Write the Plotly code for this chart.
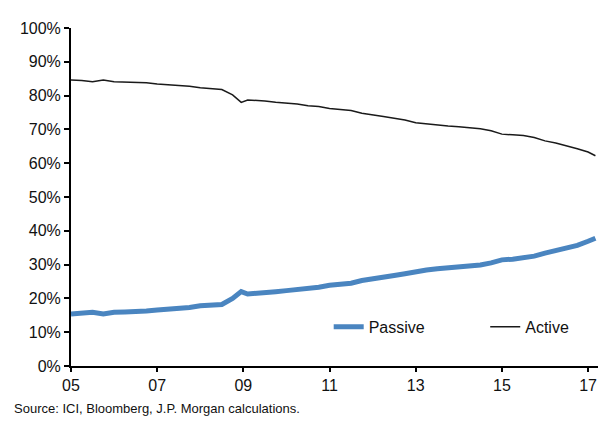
import plotly.graph_objects as go

years = [2005.00, 2005.25, 2005.50, 2005.75, 2006.00, 2006.25, 2006.50, 2006.75,
         2007.00, 2007.25, 2007.50, 2007.75, 2008.00, 2008.25, 2008.50, 2008.75,
         2008.95, 2009.10, 2009.25, 2009.50, 2009.75, 2010.00, 2010.25, 2010.50, 2010.75,
         2011.00, 2011.25, 2011.50, 2011.75, 2012.00, 2012.25, 2012.50, 2012.75,
         2013.00, 2013.25, 2013.50, 2013.75, 2014.00, 2014.25, 2014.50, 2014.75,
         2015.00, 2015.25, 2015.50, 2015.75, 2016.00, 2016.25, 2016.50, 2016.75,
         2017.00, 2017.17]

active = [84.6, 84.5, 84.1, 84.6, 84.1, 84.0, 84.0, 83.8,
          83.4, 83.2, 83.1, 82.8, 82.3, 82.0, 81.8, 80.2,
          78.0, 78.7, 78.6, 78.4, 78.0, 77.8, 77.5, 77.0, 76.8,
          76.2, 76.0, 75.6, 74.8, 74.2, 73.8, 73.3, 72.8,
          72.0, 71.6, 71.3, 71.0, 70.8, 70.6, 70.2, 69.6,
          68.6, 68.4, 68.2, 67.6, 66.6, 66.0, 65.2, 64.3,
          63.3, 62.2]

passive = [15.4, 15.5, 15.9, 15.4, 15.9, 16.0, 16.0, 16.3,
           16.6, 16.8, 16.9, 17.3, 17.8, 18.1, 18.2, 20.0,
           22.0, 21.3, 21.4, 21.6, 22.0, 22.3, 22.6, 23.1, 23.3,
           23.9, 24.1, 24.5, 25.3, 25.9, 26.3, 26.8, 27.3,
           28.0, 28.4, 28.8, 29.0, 29.2, 29.5, 29.9, 30.5,
           31.4, 31.6, 31.9, 32.5, 33.4, 34.1, 34.9, 35.7,
           36.9, 37.8]

x_tickvals = [2005, 2007, 2009, 2011, 2013, 2015, 2017]
x_ticktext = ["05", "07", "09", "11", "13", "15", "17"]
y_tickvals = [0, 10, 20, 30, 40, 50, 60, 70, 80, 90, 100]
y_ticktext = [f"{v}%" for v in y_tickvals]

FONT = "Liberation Sans, Arial, sans-serif"

fig = go.Figure()
fig.add_trace(go.Scatter(x=years, y=passive, mode="lines", name="Passive",
                         line=dict(color="#4a85c0", width=5), legend="legend"))
fig.add_trace(go.Scatter(x=years, y=active, mode="lines", name="Active",
                         line=dict(color="#1a1a1a", width=1.5), legend="legend2"))

# page body has an 8px margin; figure sized so the plot lands where the reference's does
fig.update_layout(
    width=605, height=415,
    margin=dict(l=60, r=15, t=14, b=57),
    paper_bgcolor="white", plot_bgcolor="white",
    font=dict(family=FONT, size=16, color="#111"),
    showlegend=True,
    legend=dict(x=0.489, y=0.116, xanchor="left", yanchor="middle",
                bgcolor="rgba(0,0,0,0)", font=dict(size=16)),
    legend2=dict(x=0.786, y=0.116, xanchor="left", yanchor="middle",
                 bgcolor="rgba(0,0,0,0)", font=dict(size=16)),
    xaxis=dict(range=[2005, 2017.23], tickvals=x_tickvals, ticktext=x_ticktext,
               showgrid=False, zeroline=False, showline=True, linecolor="black",
               linewidth=2, ticks="outside", ticklen=4, tickwidth=1.5, tickcolor="black"),
    yaxis=dict(range=[0, 100], tickvals=y_tickvals, ticktext=y_ticktext,
               showgrid=False, zeroline=False, showline=True, linecolor="black",
               linewidth=2, ticks="outside", ticklen=5, tickwidth=1.5, tickcolor="black"),
    annotations=[dict(text="Source: ICI, Bloomberg, J.P. Morgan calculations.",
                      xref="paper", yref="paper", x=-0.112, y=-0.125,
                      xanchor="left", yanchor="middle", showarrow=False,
                      font=dict(size=13, family=FONT, color="#111"))],
)

fig.write_html("out.html")
